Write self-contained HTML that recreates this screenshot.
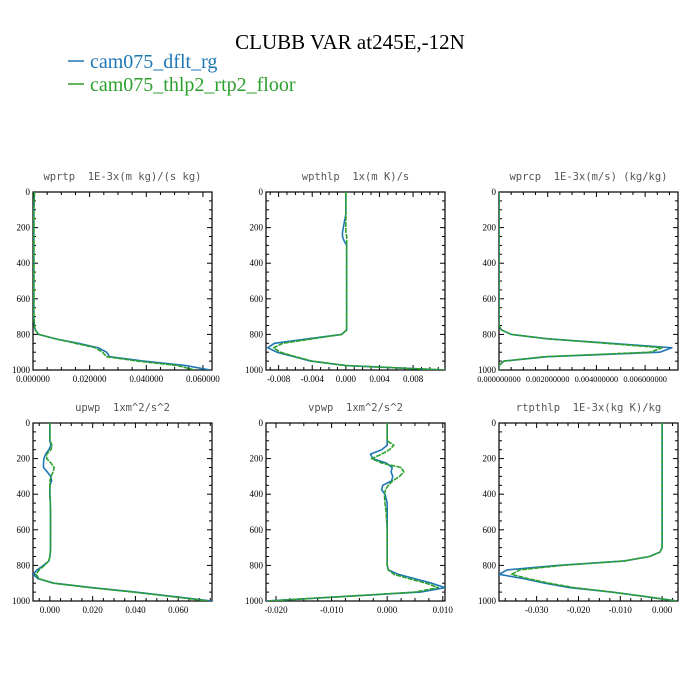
<!DOCTYPE html>
<html><head><meta charset="utf-8"><style>
html,body{margin:0;padding:0;background:#fff;width:700px;height:700px;overflow:hidden}
svg{display:block}
svg text{white-space:pre}
</style></head><body>
<svg id="chart" width="700" height="700" xmlns="http://www.w3.org/2000/svg">
<text x="350" y="49" text-anchor="middle" font-family="Liberation Serif, serif" font-size="21" fill="#000">CLUBB VAR at245E,-12N</text>
<g>
<line x1="68" y1="61" x2="84" y2="61" stroke="#1f77b4" stroke-width="1.5"/>
<text x="90" y="68" font-family="Liberation Serif, serif" font-size="20" fill="#1f77b4">cam075_dflt_rg</text>
<line x1="68" y1="84" x2="84" y2="84" stroke="#2ca02c" stroke-width="1.5"/>
<text x="90" y="91" font-family="Liberation Serif, serif" font-size="20" fill="#2ca02c">cam075_thlp2_rtp2_floor</text>
</g>
</svg>
<script>
const levels=[0,50,100,125,150,175,200,225,250,275,300,325,350,375,400,450,500,600,700,725,750,775,800,825,850,875,900,925,950,975,1000];
const panelTitles=["wprtp  1E-3x(m kg)/(s kg)","wpthlp  1x(m K)/s","wprcp  1E-3x(m/s) (kg/kg)","upwp  1xm^2/s^2","vpwp  1xm^2/s^2","rtpthlp  1E-3x(kg K)/kg"];
const xRanges=[[0,0.0632],[-0.0095,0.0118],[0,0.00735],[-0.0079,0.0758],[-0.0218,0.0104],[-0.039,0.0038]];
const xTicks=[[0,0.02,0.04,0.06],[-0.008,-0.004,0,0.004,0.008],[0,0.002,0.004,0.006],[0,0.02,0.04,0.06],[-0.02,-0.01,0,0.01],[-0.03,-0.02,-0.01,0]];
const xTickLabels=[["0.000000","0.020000","0.040000","0.060000"],["-0.008","-0.004","0.000","0.004","0.008"],["0.000000000","0.002000000","0.004000000","0.006000000"],["0.000","0.020","0.040","0.060"],["-0.020","-0.010","0.000","0.010"],["-0.030","-0.020","-0.010","0.000"]];
const yTicks=[0,200,400,600,800,1000];
const wprtpA=[0.0005,0.0004,0.0003,0.0003,0.0003,0.0003,0.0003,0.0003,0.0003,0.0003,0.0003,0.0003,0.0003,0.0003,0.0003,0.0003,0.0003,0.0003,0.0003,0.0004,0.0005,0.0008,0.002,0.008,0.016,0.023,0.026,0.027,0.039,0.054,0.0625];
const wprtpB=[0.0005,0.0004,0.0003,0.0003,0.0003,0.0003,0.0003,0.0003,0.0003,0.0003,0.0003,0.0003,0.0003,0.0003,0.0003,0.0003,0.0003,0.0003,0.0003,0.0004,0.0005,0.0008,0.002,0.008,0.015,0.022,0.0245,0.026,0.037,0.051,0.057];
const wpthlpA=[0,0,0,0,-0.0001,-0.0002,-0.0003,-0.0004,-0.0004,-0.0002,0.0001,0.0001,0.0001,0.0001,0.0001,0.0001,0.0001,0.0001,0.0001,0.0001,0.0001,0.0001,-0.0005,-0.0045,-0.0085,-0.0093,-0.0082,-0.0062,-0.0042,0.0,0.0118];
const wpthlpB=[0,0,0,0,0,0,0,0,0.0001,0.0001,0.0001,0.0001,0.0001,0.0001,0.0001,0.0001,0.0001,0.0001,0.0001,0.0001,0.0001,0.0001,-0.0005,-0.004,-0.0075,-0.0086,-0.0078,-0.006,-0.004,0.0,0.0118];
const wprcpA=[0,0,0,0,0,0,0,0,0,0,0,0,0,0,0,0,0,0,0,0,0,0.0001,0.0005,0.002,0.0046,0.0071,0.0066,0.002,0.0002,0,0];
const wprcpB=[0,0,0,0,0,0,0,0,0,0,0,0,0,0,0,0,0,0,0,0,0,0.0001,0.0005,0.002,0.0044,0.0067,0.0062,0.0019,0.0002,0,0];
const upwpA=[0,0,0,0.0005,-0.0005,-0.002,-0.0028,-0.003,-0.003,-0.0012,0.0004,0.0008,0,0,0,0.0002,0.0003,0.0003,0.0003,0.0002,0,-0.0005,-0.003,-0.006,-0.0078,-0.0055,0.002,0.02,0.04,0.058,0.0758];
const upwpB=[0,0,0,0.001,0.0005,-0.0015,-0.0015,0.0005,0.002,0.0015,0.0005,0,0,0,0,0.0002,0.0003,0.0003,0.0003,0.0002,0,-0.0005,-0.0025,-0.005,-0.0065,-0.005,0.0015,0.019,0.039,0.057,0.074];
const vpwpA=[0,0,0,0,-0.001,-0.003,-0.0026,-0.0002,0.0009,0.0007,0.001,0.0008,-0.0008,-0.001,-0.0004,0,0,0,0,0,0,0,0,0.0002,0.002,0.005,0.008,0.0104,0.006,-0.008,-0.0218];
const vpwpB=[0,0,0,0.0012,0.0004,-0.001,-0.0028,-0.001,0.0025,0.003,0.0022,0.001,0.0002,-0.0003,-0.0005,-0.0004,-0.0002,0,0,0,0,0,0,0.0002,0.0012,0.004,0.007,0.0092,0.005,-0.008,-0.0215];
const rtpthlpA=[0,0,0,0,0,0,0,0,0,0,0,0,0,0,0,0,0,0,0,-0.0005,-0.003,-0.009,-0.025,-0.037,-0.039,-0.033,-0.028,-0.022,-0.012,-0.004,0.0035];
const rtpthlpB=[0,0,0,0,0,0,0,0,0,0,0,0,0,0,0,0,0,0,0,-0.0005,-0.003,-0.009,-0.024,-0.034,-0.036,-0.032,-0.027,-0.021,-0.012,-0.004,0.0035];
const seriesA=[wprtpA,wpthlpA,wprcpA,upwpA,vpwpA,rtpthlpA];
const seriesB=[wprtpB,wpthlpB,wprcpB,upwpB,vpwpB,rtpthlpB];

const NS="http://www.w3.org/2000/svg";
const svg=document.getElementById('chart');
const PX=[33,266,499],PY=[192,423],PW=179,PH=178;
function mk(tag,attrs,parent){const e=document.createElementNS(NS,tag);for(const k in attrs)e.setAttribute(k,attrs[k]);parent.appendChild(e);return e;}
for(let p=0;p<6;p++){
  const x0=PX[p%3],y0=PY[Math.floor(p/3)];
  const [xmin,xmax]=xRanges[p];
  const sx=v=>x0+(v-xmin)/(xmax-xmin)*PW;
  const sy=v=>y0+v/1000*PH;
  const g=mk('g',{},svg);
  
  
  const t=mk('text',{x:x0+PW/2,y:y0-12,'text-anchor':'middle','font-family':'DejaVu Sans Mono, Liberation Mono, monospace','font-size':'10.5',fill:'#555'},g);
  t.textContent=panelTitles[p];
  
  
  for(let v=0;v<=1000;v+=50){
    const major=v%200===0,len=major?5:3,y=sy(v);
    mk('line',{x1:x0,y1:y,x2:x0+len,y2:y,stroke:'#000','stroke-width':1},g);
    mk('line',{x1:x0+PW,y1:y,x2:x0+PW-len,y2:y,stroke:'#000','stroke-width':1},g);
  }
  yTicks.forEach(v=>{
    const tl=mk('text',{x:x0-3,y:sy(v)+3,'text-anchor':'end','font-family':'Liberation Serif, serif','font-size':'9',fill:'#000'},g);
    tl.textContent=String(v);
    
    
  });
  const tk=xTicks[p],step=tk[1]-tk[0],minor=step/4;
  for(let v=Math.ceil(xmin/minor)*minor;v<=xmax+1e-12;v+=minor){
    const isMaj=Math.abs(Math.round(v/step)*step-v)<minor*0.01;
    const len=isMaj?5:3,x=sx(v);
    mk('line',{x1:x,y1:y0+PH,x2:x,y2:y0+PH-len,stroke:'#000','stroke-width':1},g);
    mk('line',{x1:x,y1:y0,x2:x,y2:y0+len,stroke:'#000','stroke-width':1},g);
  }
  tk.forEach((v,i)=>{
    const tl=mk('text',{x:sx(v),y:y0+PH+12,'text-anchor':'middle','font-family':'Liberation Serif, serif','font-size':p===2?'8.3':'9',fill:'#000'},g);
    tl.textContent=xTickLabels[p][i];
    
    
  });
  const fr=mk('rect',{x:x0,y:y0,width:PW,height:PH,fill:'none',stroke:'#000','stroke-width':1.2},g);
  
  
  const clip=mk('clipPath',{id:'c'+p},g);
  mk('rect',{x:x0,y:y0,width:PW,height:PH},clip);
  [[seriesA[p],'#1f77b4',''],[seriesB[p],'#2ca02c','5,1']].forEach((s,k)=>{
    const d=s[0].map((v,i)=>(i?'L':'M')+sx(v).toFixed(2)+','+sy(levels[i]).toFixed(2)).join(' ');
    const path=mk('path',{d:d,fill:'none',stroke:s[1],'stroke-width':1.6,'clip-path':'url(#c'+p+')','stroke-linejoin':'round'},g);
    if(s[2])path.setAttribute('stroke-dasharray',s[2]);
    
    
  });
}
</script>
</body></html>
